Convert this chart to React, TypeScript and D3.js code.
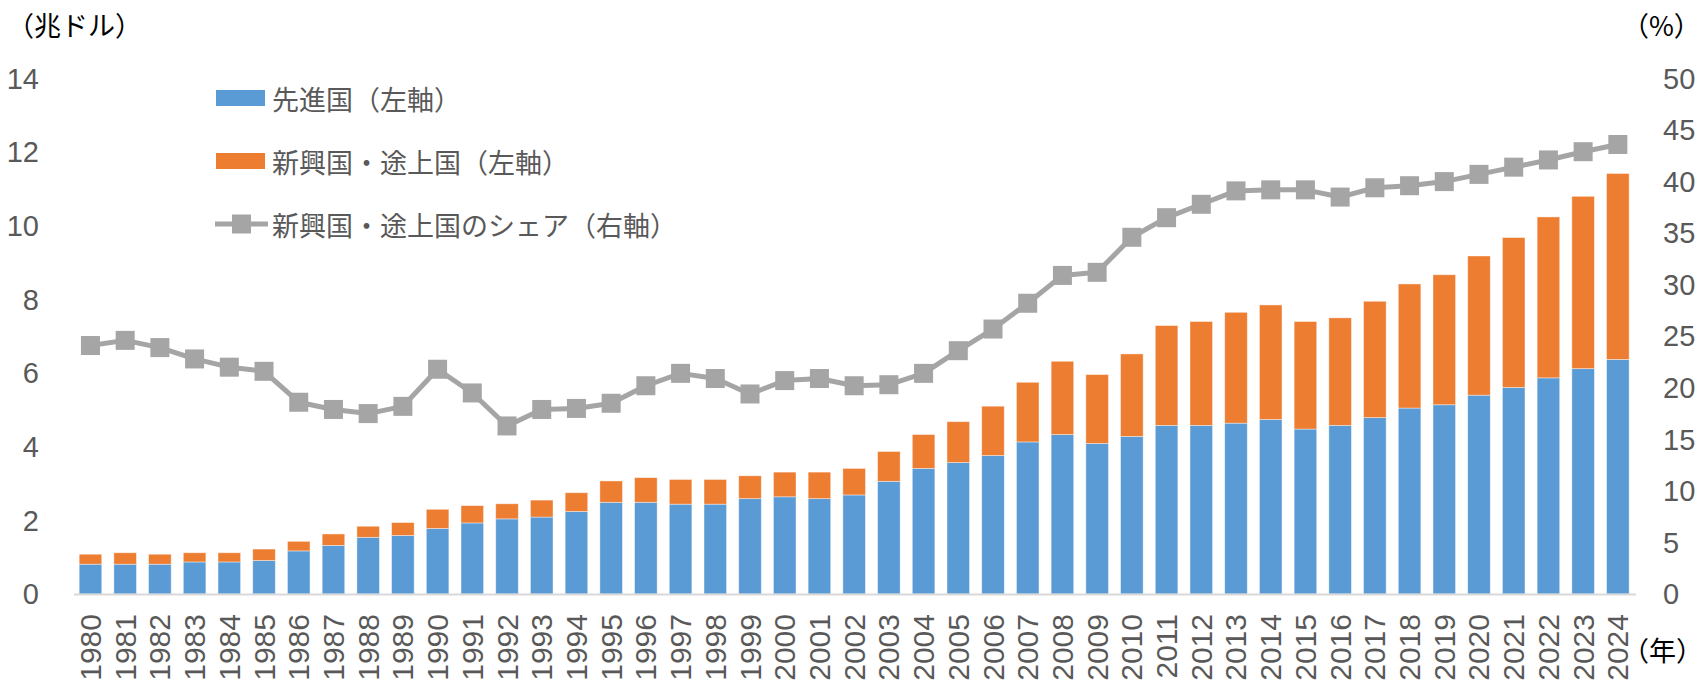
import React, { useRef, useEffect } from 'react';
import * as d3 from 'd3';

// --- Data ---
const years = [
  1980, 1981, 1982, 1983, 1984, 1985, 1986, 1987, 1988, 1989,
  1990, 1991, 1992, 1993, 1994, 1995, 1996, 1997, 1998, 1999,
  2000, 2001, 2002, 2003, 2004, 2005, 2006, 2007, 2008, 2009,
  2010, 2011, 2012, 2013, 2014, 2015, 2016, 2017, 2018, 2019,
  2020, 2021, 2022, 2023, 2024,
];

// 先進国 (trillion USD, left axis)
const advanced = [
  0.81, 0.81, 0.81, 0.87, 0.87, 0.91, 1.17, 1.32, 1.54, 1.59,
  1.78, 1.93, 2.04, 2.09, 2.24, 2.49, 2.49, 2.44, 2.44, 2.59,
  2.64, 2.59, 2.69, 3.06, 3.41, 3.57, 3.76, 4.13, 4.33, 4.09,
  4.28, 4.58, 4.58, 4.64, 4.74, 4.48, 4.58, 4.79, 5.05, 5.14,
  5.40, 5.61, 5.87, 6.12, 6.37,
];

// 新興国・途上国 (trillion USD, left axis)
const emerging = [
  0.27, 0.31, 0.27, 0.25, 0.25, 0.31, 0.26, 0.31, 0.30, 0.35,
  0.52, 0.47, 0.41, 0.46, 0.51, 0.58, 0.67, 0.67, 0.67, 0.62,
  0.67, 0.72, 0.72, 0.81, 0.92, 1.11, 1.34, 1.62, 1.99, 1.87,
  2.24, 2.71, 2.82, 3.01, 3.11, 2.92, 2.92, 3.16, 3.37, 3.53,
  3.78, 4.07, 4.37, 4.68, 5.05,
];

// 新興国・途上国のシェア (%, right axis)
const emergingShare = [
  24.1, 24.6, 23.9, 22.8, 22.0, 21.6, 18.6, 17.9, 17.5, 18.2,
  21.8, 19.5, 16.3, 17.9, 18.0, 18.5, 20.2, 21.4, 20.9, 19.4,
  20.7, 20.9, 20.2, 20.3, 21.4, 23.6, 25.7, 28.2, 30.9, 31.2,
  34.6, 36.5, 37.8, 39.1, 39.2, 39.2, 38.5, 39.4, 39.6, 40.0,
  40.7, 41.4, 42.1, 42.9, 43.6,
];

const leftTicks = [0, 2, 4, 6, 8, 10, 12, 14];
const rightTicks = [0, 5, 10, 15, 20, 25, 30, 35, 40, 45, 50];

const legendItems = [
  { label: '先進国（左軸）', type: 'bar', color: '#5b9bd5' },
  { label: '新興国・途上国（左軸）', type: 'bar', color: '#ed7d31' },
  { label: '新興国・途上国のシェア（右軸）', type: 'line', color: '#a5a5a5' },
];

const FONT = '"Liberation Sans", Arial, "Noto Sans CJK JP", sans-serif';
const CJK_FONT = '"Noto Sans CJK JP", "Liberation Sans", sans-serif';

const Chart = ({ width = 1707, height = 682 }) => {
  const svgRef = useRef<SVGSVGElement>(null);

  useEffect(() => {
    const svg = d3.select(svgRef.current)
      .attr('width', width)
      .attr('height', height)
      .html('');

    const plotLeft = 73.1;
    const plotRight = 1635.2;
    const plotBottom = 594;
    const plotTop = 78.5;

    // --- Scales ---
    const x = d3.scaleBand<number>()
      .domain(years)
      .range([plotLeft, plotRight])
      .paddingInner(0.35)
      .paddingOuter(0.175);

    const yLeft = d3.scaleLinear().domain([0, 14]).range([plotBottom, plotTop]);
    const yRight = d3.scaleLinear().domain([0, 50]).range([plotBottom, plotTop]);

    // --- Stacked bars ---
    const rows = years.map((year, i) => ({ year, advanced: advanced[i], emerging: emerging[i] }));
    const stack = d3.stack<any>().keys(['advanced', 'emerging'])(rows);
    const colors = ['#5b9bd5', '#ed7d31'];

    stack.forEach((layer, li) => {
      svg.append('g')
        .selectAll('rect')
        .data(layer)
        .join('rect')
        .attr('x', d => x(d.data.year)!)
        .attr('y', d => yLeft(d[1]))
        .attr('width', x.bandwidth())
        .attr('height', d => yLeft(d[0]) - yLeft(d[1]))
        .attr('fill', colors[li])
        .attr('stroke', '#ffffff')
        .attr('stroke-opacity', 0.5)
        .attr('stroke-width', 0.8);
    });

    // baseline
    svg.append('line')
      .attr('x1', plotLeft + 1)
      .attr('x2', plotRight + 1)
      .attr('y1', plotBottom + 0.5)
      .attr('y2', plotBottom + 0.5)
      .attr('stroke', '#d9d9d9')
      .attr('stroke-width', 2);

    // --- Share line with square markers ---
    const cx = (year: number) => x(year)! + x.bandwidth() / 2;
    const line = d3.line<number>()
      .x((d, i) => cx(years[i]))
      .y(d => yRight(d));

    svg.append('path')
      .datum(emergingShare)
      .attr('fill', 'none')
      .attr('stroke', '#a5a5a5')
      .attr('stroke-width', 5)
      .attr('stroke-linejoin', 'round')
      .attr('d', line);

    const markerSize = 19;
    svg.append('g')
      .selectAll('rect')
      .data(emergingShare)
      .join('rect')
      .attr('x', (d, i) => cx(years[i]) - markerSize / 2)
      .attr('y', d => yRight(d) - markerSize / 2)
      .attr('width', markerSize)
      .attr('height', markerSize)
      .attr('fill', '#a5a5a5');

    // --- Axes labels ---
    svg.append('g')
      .selectAll('text')
      .data(leftTicks)
      .join('text')
      .attr('x', 39)
      .attr('y', d => yLeft(d))
      .attr('dy', '0.35em')
      .attr('text-anchor', 'end')
      .style('font-family', FONT)
      .style('font-size', '29px')
      .style('fill', '#595959')
      .text(d => d);

    svg.append('g')
      .selectAll('text')
      .data(rightTicks)
      .join('text')
      .attr('x', 1663)
      .attr('y', d => yRight(d))
      .attr('dy', '0.35em')
      .attr('text-anchor', 'start')
      .style('font-family', FONT)
      .style('font-size', '29px')
      .style('fill', '#595959')
      .text(d => d);

    // year labels, rotated
    svg.append('g')
      .selectAll('text')
      .data(years)
      .join('text')
      .attr('transform', d => `translate(${cx(d)}, 614) rotate(-90)`)
      .attr('dy', '0.35em')
      .attr('text-anchor', 'end')
      .style('font-family', FONT)
      .style('font-size', '30px')
      .style('fill', '#595959')
      .text(d => d);

    // unit labels
    const unit = (txt: string, ux: number, uy: number) =>
      svg.append('text')
        .attr('x', ux)
        .attr('y', uy)
        .attr('dominant-baseline', 'central')
        .style('font-family', CJK_FONT)
        .style('font-size', '27px')
        .style('fill', '#000000')
        .text(txt);

    unit('（兆ドル）', 7, 24);
    unit('（%）', 1622, 24);
    unit('（年）', 1622, 649);

    // --- Legend ---
    const legend = svg.append('g');
    legendItems.forEach((item, i) => {
      const ly = 98 + i * 63;
      if (item.type === 'bar') {
        legend.append('rect')
          .attr('x', 216)
          .attr('y', ly - 8)
          .attr('width', 49)
          .attr('height', 16)
          .attr('fill', item.color);
      } else {
        legend.append('line')
          .attr('x1', 215)
          .attr('x2', 268)
          .attr('y1', ly)
          .attr('y2', ly)
          .attr('stroke', item.color)
          .attr('stroke-width', 5);
        legend.append('rect')
          .attr('x', 241.5 - markerSize / 2)
          .attr('y', ly - markerSize / 2)
          .attr('width', markerSize)
          .attr('height', markerSize)
          .attr('fill', item.color);
      }
      legend.append('text')
        .attr('x', 272)
        .attr('y', ly)
        .attr('dominant-baseline', 'central')
        .style('font-family', CJK_FONT)
        .style('font-size', '27px')
        .style('fill', '#595959')
        .text(item.label);
    });
  }, [width, height]);

  return <svg ref={svgRef} style={{ display: 'block' }}></svg>;
};

export default function App() {
  useEffect(() => {
    document.body.style.margin = '0';
  }, []);
  return <Chart />;
}
